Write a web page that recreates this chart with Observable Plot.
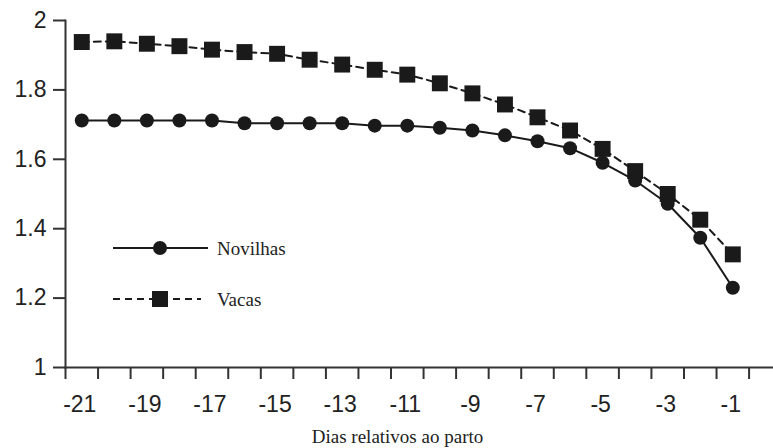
<!DOCTYPE html>
<html><head><meta charset="utf-8">
<script src="https://cdn.jsdelivr.net/npm/d3@7"></script>
<script src="https://cdn.jsdelivr.net/npm/@observablehq/plot@0.6"></script>
<style>body{margin:0;background:#fff}#chart{position:relative;width:773px;height:448px}</style>
</head><body><div id="chart"></div>
<script>
const days = [-21,-20,-19,-18,-17,-16,-15,-14,-13,-12,-11,-10,-9,-8,-7,-6,-5,-4,-3,-2,-1];
const novilhas = [1.712,1.712,1.712,1.712,1.712,1.704,1.704,1.704,1.704,1.697,1.697,1.691,1.683,1.669,1.652,1.632,1.590,1.539,1.472,1.374,1.230];
const vacas = [1.938,1.940,1.933,1.926,1.916,1.909,1.904,1.887,1.873,1.858,1.844,1.819,1.790,1.758,1.721,1.683,1.630,1.566,1.500,1.426,1.326];
const seriesNames = ["Novilhas", "Vacas"];
const yTicks = [1, 1.2, 1.4, 1.6, 1.8, 2];
const yTickLabels = ["1", "1.2", "1.4", "1.6", "1.8", "2"];
const xLabelDays = [-21,-19,-17,-15,-13,-11,-9,-7,-5,-3,-1];
const xTickLabels = ["-21","-19","-17","-15","-13","-11","-9","-7","-5","-3","-1"];
const xTitle = "Dias relativos ao parto";

const nov = days.map((d, i) => ({day: d, value: novilhas[i]}));
const vac = days.map((d, i) => ({day: d, value: vacas[i]}));
const xBounds = d3.range(days.length + 1).map(i => days[0] - 0.5 + i);
const ink = "#1a1a1a";
const axisInk = "#333";

const plot = Plot.plot({
  width: 773, height: 448,
  marginLeft: 65, marginRight: 0, marginTop: 20, marginBottom: 81,
  x: {domain: [days[0] - 0.5, 0.25]},
  y: {domain: [1, 2]},
  style: {fontFamily: "'Liberation Sans', Arial, sans-serif", color: "#222", background: "#fff"},
  marks: [
    Plot.frame({anchor: "left", stroke: axisInk, strokeWidth: 2}),
    Plot.frame({anchor: "bottom", stroke: axisInk, strokeWidth: 2}),
    Plot.axisY({ticks: yTicks, tickFormat: d => yTickLabels[yTicks.indexOf(d)], tickSize: 12, tickPadding: 7, fontSize: 23, stroke: axisInk, strokeWidth: 2, label: null}),
    Plot.axisX({ticks: xBounds, tickFormat: () => "", tickSize: 12, stroke: axisInk, strokeWidth: 2, label: null}),
    Plot.axisX({ticks: xLabelDays, tickFormat: d => xTickLabels[xLabelDays.indexOf(d)], tickSize: 0, tickPadding: 28, fontSize: 23, dx: -2, label: null}),
    Plot.line(vac, {x: "day", y: "value", stroke: ink, strokeWidth: 2, strokeDasharray: "7,5"}),
    Plot.line(nov, {x: "day", y: "value", stroke: ink, strokeWidth: 2}),
    Plot.dot(vac, {x: "day", y: "value", symbol: "square", r: 9, fill: ink, stroke: "none"}),
    Plot.dot(nov, {x: "day", y: "value", r: 7, fill: ink, stroke: "none"}),
    Plot.text([xTitle], {frameAnchor: "bottom", lineAnchor: "top", dy: 62, dx: -22, fontFamily: "'Liberation Serif', 'Times New Roman', serif", fontSize: 19, fill: "#222"})
  ]
});

// Legend
const svg = d3.select(plot);
const leg = svg.append("g").attr("class", "legend");
seriesNames.forEach((name, i) => {
  const g = leg.append("g").attr("transform", `translate(113,${248 + i * 51})`);
  g.append("line").attr("x1", 0).attr("x2", i === 0 ? 95 : 88).attr("y1", 0).attr("y2", 0)
    .attr("stroke", ink).attr("stroke-width", 2).attr("stroke-dasharray", i === 0 ? null : "7,5");
  if (i === 0) g.append("circle").attr("cx", 47).attr("cy", 0).attr("r", 7).attr("fill", ink);
  else g.append("rect").attr("x", 39).attr("y", -8).attr("width", 16).attr("height", 16).attr("fill", ink);
  g.append("text").attr("x", 104).attr("y", 0).attr("dy", "0.35em").attr("text-anchor", "start")
    .attr("font-family", "'Liberation Serif', 'Times New Roman', serif").attr("font-size", 19).attr("fill", "#222").text(name);
});

document.getElementById("chart").appendChild(plot);
</script>
</body></html>
